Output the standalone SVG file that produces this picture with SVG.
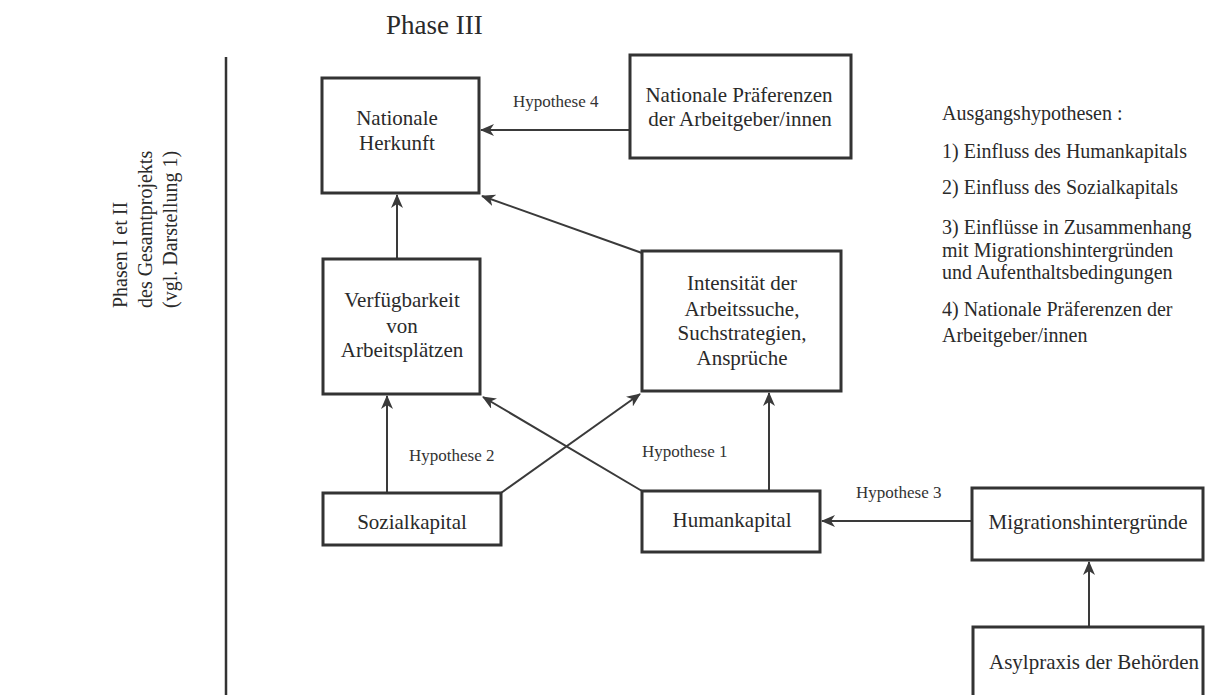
<svg xmlns="http://www.w3.org/2000/svg" width="1213" height="695" viewBox="0 0 1213 695">
<style>
.box{fill:#fff;stroke:#333;stroke-width:3}
.t{font-family:"Liberation Serif","Times New Roman",serif;font-size:21px;fill:#2a2a2a;text-anchor:middle}
.lbl{font-family:"Liberation Serif","Times New Roman",serif;font-size:17px;fill:#333}
.leg{font-family:"Liberation Serif","Times New Roman",serif;font-size:20px;fill:#2a2a2a}
.conn line{stroke:#3a3a3a;stroke-width:2;fill:none;marker-end:url(#ah)}
</style>
<defs>
<marker id="ah" markerUnits="userSpaceOnUse" markerWidth="14" markerHeight="12" refX="13" refY="6" orient="auto">
<path d="M0,0 L14,6 L0,12 L4,6 z" fill="#3a3a3a"/>
</marker>
</defs>
<rect width="1213" height="695" fill="#fff"/>
<text x="386" y="34" font-family="Liberation Serif, Times New Roman, serif" font-size="27" fill="#2a2a2a">Phase III</text>
<line x1="226" y1="57" x2="226" y2="695" stroke="#333" stroke-width="2.5"/>
<g id="side-label" class="leg" font-size="20">
<text transform="translate(127,308) rotate(-90)">Phasen I et II</text>
<text transform="translate(152,308) rotate(-90)">des Gesamtprojekts</text>
<text transform="translate(177,308) rotate(-90)">(vgl. Darstellung 1)</text>
</g>
<g id="legend" class="leg">
<text x="942" y="120">Ausgangshypothesen :</text>
<text x="942" y="158">1) Einfluss des Humankapitals</text>
<text x="942" y="194">2) Einfluss des Sozialkapitals</text>
<text x="942" y="234">3) Einflüsse in Zusammenhang</text>
<text x="942" y="257">mit Migrationshintergründen</text>
<text x="942" y="279">und Aufenthaltsbedingungen</text>
<text x="942" y="316">4) Nationale Präferenzen der</text>
<text x="942" y="342">Arbeitgeber/innen</text>
</g>
<g id="connectors" class="conn">
<line x1="630" y1="130" x2="481" y2="130"/>
<line x1="397" y1="259" x2="397" y2="195"/>
<line x1="642" y1="253" x2="482" y2="196"/>
<line x1="387" y1="493" x2="387" y2="396"/>
<line x1="501" y1="493" x2="640" y2="394"/>
<line x1="642" y1="491" x2="483" y2="397"/>
<line x1="769" y1="491" x2="769" y2="393"/>
<line x1="972" y1="521" x2="822" y2="521"/>
<line x1="1089" y1="627" x2="1089" y2="562"/>
</g>
<g id="conn-labels" class="lbl">
<text x="513" y="107">Hypothese 4</text>
<text x="409" y="461">Hypothese 2</text>
<text x="642" y="457">Hypothese 1</text>
<text x="856" y="498">Hypothese 3</text>
</g>
<g id="n-herkunft">
<rect class="box" x="322" y="78" width="157" height="115"/>
<text class="t" x="397" y="125">Nationale</text>
<text class="t" x="397" y="150">Herkunft</text>
</g>
<g id="n-praeferenzen">
<rect class="box" x="630" y="55" width="221" height="103"/>
<text class="t" x="739" y="102">Nationale Präferenzen</text>
<text class="t" x="740" y="126">der Arbeitgeber/innen</text>
</g>
<g id="n-verfuegbarkeit">
<rect class="box" x="323" y="259" width="157" height="135"/>
<text class="t" x="402" y="307">Verfügbarkeit</text>
<text class="t" x="402" y="333">von</text>
<text class="t" x="402" y="357">Arbeitsplätzen</text>
</g>
<g id="n-intensitaet">
<rect class="box" x="642" y="251" width="199" height="140"/>
<text class="t" x="742" y="290">Intensität der</text>
<text class="t" x="742" y="316">Arbeitssuche,</text>
<text class="t" x="742" y="340">Suchstrategien,</text>
<text class="t" x="742" y="365">Ansprüche</text>
</g>
<g id="n-sozialkapital">
<rect class="box" x="323" y="493" width="178" height="52"/>
<text class="t" x="412" y="529">Sozialkapital</text>
</g>
<g id="n-humankapital">
<rect class="box" x="642" y="491" width="178" height="61"/>
<text class="t" x="732" y="527">Humankapital</text>
</g>
<g id="n-migration">
<rect class="box" x="972" y="488" width="231" height="72"/>
<text class="t" x="1088" y="529">Migrationshintergründe</text>
</g>
<g id="n-asylpraxis">
<rect class="box" x="973" y="627" width="230" height="80"/>
<text class="t" x="1094" y="669">Asylpraxis der Behörden</text>
</g>
</svg>
